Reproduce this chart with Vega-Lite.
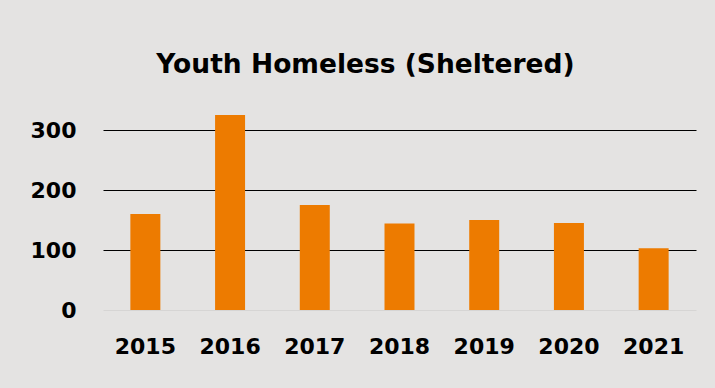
{
  "$schema": "https://vega.github.io/schema/vega-lite/v6.json",
  "width": 593,
  "height": 210,
  "autosize": {"type": "none"},
  "padding": {"left": 103, "top": 100, "right": 19, "bottom": 78},
  "background": "#e4e3e2",
  "config": {"view": {"stroke": null}, "font": "DejaVu Sans"},
  "title": {
    "text": "Youth Homeless (Sheltered)",
    "fontSize": 26.5,
    "fontWeight": "bold",
    "font": "DejaVu Sans",
    "color": "#000000",
    "anchor": "middle",
    "baseline": "alphabetic",
    "offset": 1,
    "dx": -34
  },
  "data": {
    "values": [
      {"year": "2015", "count": 160},
      {"year": "2016", "count": 325},
      {"year": "2017", "count": 175},
      {"year": "2018", "count": 144},
      {"year": "2019", "count": 150},
      {"year": "2020", "count": 145},
      {"year": "2021", "count": 103}
    ]
  },
  "mark": {"type": "bar", "color": "#ed7b00"},
  "encoding": {
    "x": {
      "field": "year",
      "type": "ordinal",
      "scale": {"paddingInner": 0.646, "paddingOuter": 0.323},
      "axis": {
        "title": null,
        "labelAngle": 0,
        "domain": false,
        "ticks": false,
        "tickSize": 0,
        "labelFont": "DejaVu Sans",
        "labelFontSize": 22,
        "labelFontWeight": "bold",
        "labelColor": "#000000",
        "labelBaseline": "alphabetic",
        "labelPadding": 43
      }
    },
    "y": {
      "field": "count",
      "type": "quantitative",
      "scale": {"domain": [0, 350], "nice": false},
      "axis": {
        "title": null,
        "values": [0, 100, 200, 300],
        "domain": false,
        "ticks": false,
        "tickSize": 0,
        "labelFont": "DejaVu Sans",
        "labelFontSize": 22,
        "labelFontWeight": "bold",
        "labelColor": "#000000",
        "labelPadding": 27,
        "gridColor": {"condition": {"test": "datum.value === 0", "value": "#d6d5d4"}, "value": "#000000"},
        "gridWidth": 1,
        "gridOpacity": 1
      }
    }
  }
}
